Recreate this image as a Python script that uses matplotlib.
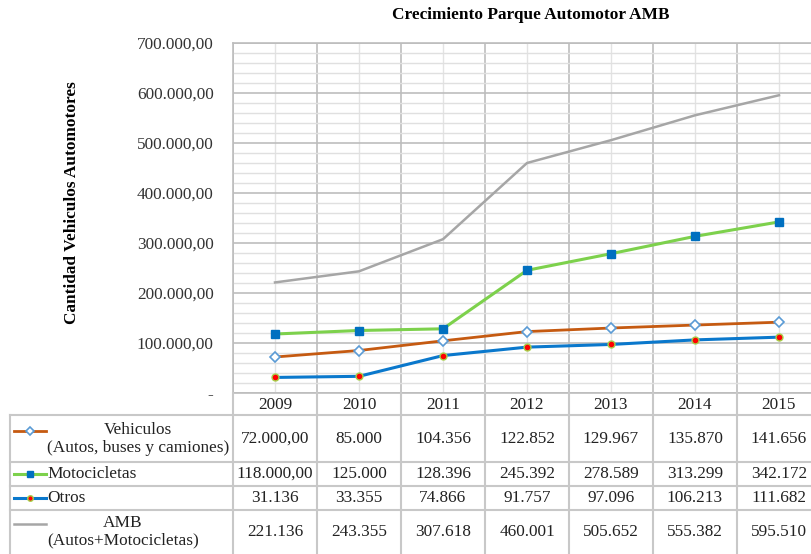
import numpy as np
import matplotlib
matplotlib.use("Agg")
import matplotlib.pyplot as plt
import matplotlib.transforms as mtransforms
from matplotlib.lines import Line2D

# Datos del parque automotor
anios = ["2009", "2010", "2011", "2012", "2013", "2014", "2015"]
vehiculos = [72000, 85000, 104356, 122852, 129967, 135870, 141656]
motocicletas = [118000, 125000, 128396, 245392, 278589, 313299, 342172]
otros = [31136, 33355, 74866, 91757, 97096, 106213, 111682]
amb = [221136, 243355, 307618, 460001, 505652, 555382, 595510]

nombres = ["Vehiculos\n(Autos, buses y camiones)", "Motocicletas", "Otros",
           "AMB\n(Autos+Motocicletas)"]
# celdas que en la tabla original aparecen con decimales
con_decimales = {(0, 0), (1, 0)}

plt.rcParams['font.family'] = ['Liberation Serif', 'DejaVu Serif']
FS = 12.4

W, H = 811, 554
fig = plt.figure(figsize=(W / 100, H / 100), dpi=100)


def fx(px):
    return px / W


def fy(py):
    return 1 - py / H


def fmt(v, dec):
    s = '{:,.{d}f}'.format(v, d=dec)
    return s.replace(',', 'X').replace('.', ',').replace('X', '.')


# area del grafico (se sale por la derecha como en la imagen)
ax_l, ax_r, ax_t, ax_b = 233, 821, 43, 393
ax = fig.add_axes([fx(ax_l), fy(ax_b), fx(ax_r - ax_l), (ax_b - ax_t) / H])

x = np.arange(len(anios))
estilos = [
    dict(color='#C55A11', lw=2.0, marker='D', ms=5, mfc='white', mec='#5B9BD5', mew=1.2),
    dict(color='#7DD14C', lw=2.2, marker='s', ms=6, mfc='#0070C0', mec='#0070C0'),
    dict(color='#0A78CC', lw=2.2, marker='o', ms=5, mfc='#FF0000', mec='#A8D04A', mew=1.0),
    dict(color='#A6A6A6', lw=1.8),
]
series = [vehiculos, motocicletas, otros, amb]
for i in [3, 0, 1, 2]:
    ax.plot(x, series[i], zorder=3 + i, clip_on=False, **estilos[i])

ax.set_xlim(-0.5, len(anios) - 0.5)
ax.set_ylim(0, 700000)
ax.set_yticks(np.arange(0, 700001, 100000))
ax.set_yticks(np.arange(0, 700001, 20000), minor=True)
ax.set_yticklabels(['-'] + [fmt(v, 2) for v in range(100000, 700001, 100000)])
ax.set_xticks(x)
ax.set_xticklabels(anios)
ax.set_xticks(np.arange(-0.5, len(anios), 1), minor=True)
ax.tick_params(axis='y', which='both', length=0, pad=14, labelsize=FS, labelcolor='#333333')
ax.tick_params(axis='x', which='both', length=0, pad=3, labelsize=FS, labelcolor='#222222')

ax.grid(axis='y', which='major', color='#BDBDBD', lw=1.2)
ax.grid(axis='y', which='minor', color='#E0E0E0', lw=1.0)
ax.grid(axis='x', which='minor', color='#BDBDBD', lw=1.2)
ax.grid(axis='x', which='major', color='#E3E3E3', lw=1.0)
ax.set_axisbelow(True)
for s in ax.spines.values():
    s.set_color('#BDBDBD')
    s.set_linewidth(1.2)

fig.text(fx(531), fy(15), 'Crecimiento Parque Automotor AMB', ha='center', va='center',
         fontsize=FS, fontweight='bold')
fig.text(fx(72), fy(203), 'Cantidad Vehiculos Automotores', ha='center', va='center',
         rotation=90, fontsize=FS, fontweight='bold')

# tabla de datos
trans = mtransforms.blended_transform_factory(ax.transData, fig.transFigure)
gris = '#C8C8C8'
filas_y = [415, 462, 486, 510, 560]
for py in filas_y[:-1]:
    fig.add_artist(Line2D([fx(10), fx(821)], [fy(py), fy(py)], color=gris, lw=1.5))
fig.add_artist(Line2D([fx(10), fx(10)], [fy(415), fy(560)], color=gris, lw=1.5))
for b in np.arange(-0.5, len(anios), 1):
    fig.add_artist(Line2D([b, b], [fy(393), fy(560)], color=gris, lw=1.5, transform=trans))

centros = [439, 474, 498, 532]
for r, (nombre, datos) in enumerate(zip(nombres, series)):
    yc = centros[r]
    for c, v in enumerate(datos):
        dec = 2 if (r, c) in con_decimales else 0
        fig.text(c, fy(yc), fmt(v, dec), transform=trans, ha='center', va='center',
                 fontsize=FS, color='#222222')
    fig.text(fx(47), fy(yc), nombre, ha='left', va='center',
             multialignment='center', fontsize=FS, color='#222222', linespacing=1.1)
    ky = yc - 8 if '\n' in nombre else yc
    e = dict(estilos[r])
    e['ms'] = e.get('ms', 5) * 0.8
    fig.add_artist(Line2D([fx(14), fx(30), fx(46)], [fy(ky)] * 3, markevery=[1], **e))

fig.savefig('out.png', dpi=100)
